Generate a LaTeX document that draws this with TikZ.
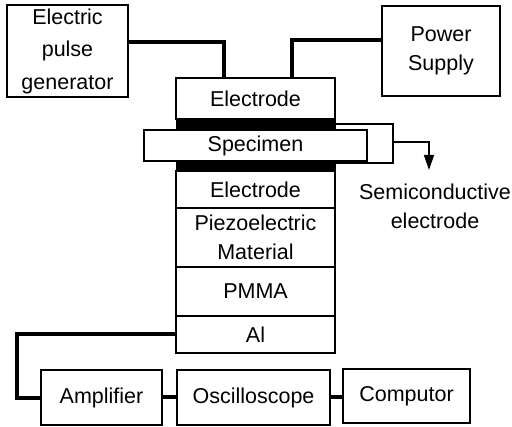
\documentclass[tikz,border=0pt]{standalone}
\usepackage{fontspec}
\setmainfont{Liberation Sans}
\usetikzlibrary{arrows.meta}
\tikzset{
  box/.style={draw, line width=1.4pt, inner sep=0pt, outer sep=0pt, align=center,
    font=\fontsize{21.5}{30}\selectfont},
  band/.style={fill=black, draw=black, line width=0.5pt, inner sep=0pt, outer sep=0pt},
  wire/.style={line width=4pt},
  thin/.style={line width=1.4pt},
  lbl/.style={align=center, font=\fontsize{21.5}{29}\selectfont},
}
\begin{document}
\begin{tikzpicture}[x=1pt,y=-1pt]
\useasboundingbox (0,0) rectangle (512,427);
% top boxes
\node[box, minimum width=121pt, minimum height=92pt, font=\fontsize{21.5}{32.5}\selectfont] (gen) at (67.5,51) {Electric\\pulse\\generator};
\node[box, minimum width=118pt, minimum height=90pt, font=\fontsize{21.5}{28.5}\selectfont] (ps) at (441,51) {Power\\Supply};
% outer semiconductive electrode frame
\draw[thin] (335,124) -- (393,124) -- (393,163) -- (335,163);
% stack
\node[box, minimum width=159pt, minimum height=41pt] (el1) at (255.5,98.5) {Electrode};
\node[band, minimum width=159pt, minimum height=11pt] (b1) at (255.5,124.5) {};
\node[box, fill=white, minimum width=223pt, minimum height=31pt] (spec) at (255.5,145.5) {Specimen};
\node[band, minimum width=159pt, minimum height=10pt] (b2) at (255.5,166.5) {};
\node[box, minimum width=159pt, minimum height=37pt] (el2) at (255.5,189.5) {Electrode};
\node[box, minimum width=159pt, minimum height=59pt, font=\fontsize{21.5}{29}\selectfont] (pz) at (255.5,237.5) {Piezoelectric\\Material};
\node[box, minimum width=159pt, minimum height=49pt] (pm) at (255.5,291.5) {PMMA};
\node[box, minimum width=159pt, minimum height=37pt] (al) at (255.5,334.5) {Al};
% bottom boxes
\node[box, minimum width=121pt, minimum height=55pt] (amp) at (101.5,397.5) {Amplifier};
\node[box, minimum width=153pt, minimum height=55pt] (osc) at (253.5,397.5) {Oscilloscope};
\node[box, minimum width=127pt, minimum height=54pt] (comp) at (406.5,396) {Computor};
% wires
\draw[wire] (gen.east |- 0,42) -| (224,0 |- el1.north);
\draw[wire] (ps.west |- 0,40) -| (292,0 |- el1.north);
\coordinate (alw) at (al.west);
\draw[wire] (alw) -| (17,398) -- (amp.west |- 0,398);
\draw[wire] (amp.east |- 0,397) -- (osc.west |- 0,397);
\draw[wire] (osc.east |- 0,397) -- (comp.west |- 0,397);
% semiconductive electrode arrow
\coordinate (sa) at (393,142);
\draw[thin, -{Triangle[length=15pt,width=10pt]}] (sa) -| (429,170);
\node[lbl] (sc) at (435,206) {Semiconductive\\electrode};
\end{tikzpicture}
\end{document}
